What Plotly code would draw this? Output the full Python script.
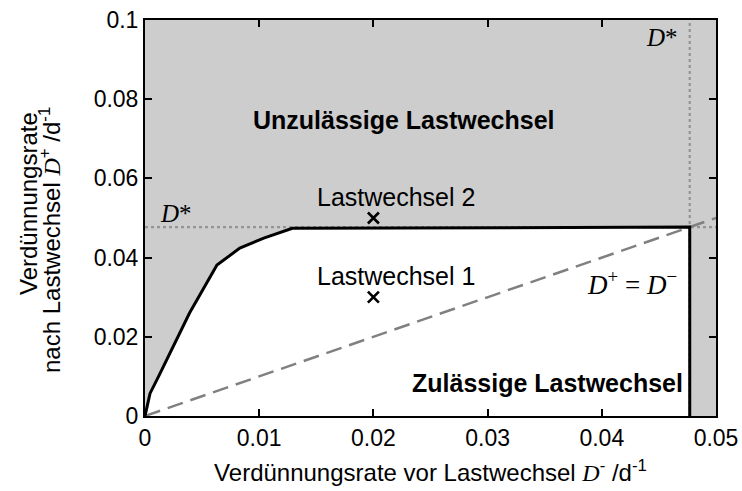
import plotly.graph_objects as go

# Critical dilution rate D*
d_star = 0.0477

# Upper boundary of the admissible region (rising part, then flat at D*)
curve_x = [0.0, 0.00044, 0.00117, 0.0022, 0.0039, 0.0063, 0.0069, 0.0083, 0.0104, 0.0129, d_star]
curve_y = [0.0, 0.0057, 0.0099, 0.0159, 0.026, 0.0381, 0.0394, 0.0424, 0.0449, 0.0474, d_star]

# Load changes (before, after)
change_names = ["Lastwechsel 1", "Lastwechsel 2"]
change_x = [0.02, 0.02]
change_y = [0.03, 0.05]
label_x = 0.0149

x_ticks = [0, 0.01, 0.02, 0.03, 0.04, 0.05]
x_ticklabels = ["0", "0.01", "0.02", "0.03", "0.04", "0.05"]
y_ticks = [0, 0.02, 0.04, 0.06, 0.08, 0.1]
y_ticklabels = ["0", "0.02", "0.04", "0.06", "0.08", "0.1"]

x_max = 0.05
y_max = 0.1

GRAY_BG = "#cdcdcd"
SANS = "Liberation Sans, Arial, sans-serif"
SERIF = "Liberation Serif, Times New Roman, serif"
TICK_SIZE = 23
TITLE_SIZE = 24
LABEL_SIZE = 25

fig = go.Figure()

# Admissible region (white) bounded by the curve, D* and the x-axis
region_x = curve_x + [d_star, 0.0]
region_y = curve_y + [0.0, 0.0]
fig.add_trace(go.Scatter(x=region_x, y=region_y, mode="lines", fill="toself",
                         fillcolor="white", line=dict(width=0), hoverinfo="skip",
                         showlegend=False))

# Dotted D* guide lines
fig.add_trace(go.Scatter(x=[0, x_max], y=[d_star, d_star], mode="lines",
                         line=dict(color="#959595", width=2.2, dash="3px,3px"),
                         showlegend=False))
fig.add_trace(go.Scatter(x=[d_star, d_star], y=[0, y_max], mode="lines",
                         line=dict(color="#959595", width=2.2, dash="3px,3px"),
                         showlegend=False))

# Diagonal D+ = D-
fig.add_trace(go.Scatter(x=[0, x_max], y=[0, x_max], mode="lines",
                         line=dict(color="#808080", width=2.5, dash="16px,8px"),
                         showlegend=False))

# Boundary of admissible region
fig.add_trace(go.Scatter(x=curve_x + [d_star], y=curve_y + [0.0], mode="lines",
                         line=dict(color="black", width=3), showlegend=False))

# Load change markers with labels
fig.add_trace(go.Scatter(x=change_x, y=change_y, mode="markers",
                         marker=dict(symbol="x-thin", size=11, color="black",
                                     line=dict(width=2.6, color="black")),
                         showlegend=False))
for name, yv in zip(change_names, change_y):
    fig.add_annotation(x=label_x, y=yv, text=name, showarrow=False, xanchor="left",
                       yanchor="middle", yshift=21,
                       font=dict(family=SANS, size=LABEL_SIZE, color="black"))

fig.add_annotation(x=0.0227, y=0.0748, text="<b>Unzulässige Lastwechsel</b>",
                   showarrow=False, font=dict(family=SANS, size=LABEL_SIZE, color="black"))
fig.add_annotation(x=0.0473, y=0.0083, text="<b>Zulässige Lastwechsel</b>",
                   showarrow=False, xanchor="right",
                   font=dict(family=SANS, size=LABEL_SIZE, color="black"))

fig.add_annotation(x=0.0011, y=0.0512, text="<i>D</i>*", showarrow=False,
                   xanchor="left", font=dict(family=SERIF, size=25, color="black"))
fig.add_annotation(x=0.0437, y=0.0957, text="<i>D</i>*", showarrow=False,
                   xanchor="left", font=dict(family=SERIF, size=25, color="black"))
fig.add_annotation(x=0.0468, y=0.0336, text="<i>D</i><sup>+</sup> = <i>D</i><sup>−</sup>",
                   showarrow=False, xanchor="right",
                   font=dict(family=SERIF, size=27, color="black"))

# Two-line y-axis title
y_title_lines = ["Verdünnungsrate",
                 "nach Lastwechsel <span style='font-family:Liberation Serif'><i>D</i></span>"
                 "<sup>+</sup> /d<sup>-1</sup>"]
y_title_xshift = [-117, -95]
y_title_yshift = [14, -22]
for line, xs, ys in zip(y_title_lines, y_title_xshift, y_title_yshift):
    fig.add_annotation(xref="paper", yref="paper", x=0, y=0.5, text=line,
                       textangle=-90, showarrow=False, xanchor="center",
                       yanchor="middle", xshift=xs, yshift=ys,
                       font=dict(family=SANS, size=TITLE_SIZE, color="black"))

axis_common = dict(showline=True, linecolor="black", linewidth=2, mirror="ticks",
                   ticks="inside", ticklen=7, tickwidth=1.5, tickcolor="black",
                   showgrid=False, zeroline=False, automargin=False,
                   tickfont=dict(family=SANS, size=TICK_SIZE, color="black"))

fig.update_xaxes(range=[0, x_max], tickvals=x_ticks, ticktext=x_ticklabels,
                 title=dict(text="Verdünnungsrate vor Lastwechsel "
                                 "<span style='font-family:Liberation Serif'><i>D</i></span>"
                                 "<sup>-</sup> /d<sup>-1</sup>",
                            font=dict(family=SANS, size=TITLE_SIZE, color="black"),
                            standoff=15),
                 **axis_common)
fig.update_yaxes(range=[0, y_max], tickvals=y_ticks, ticktext=y_ticklabels,
                 **axis_common)

fig.update_layout(width=742, height=491, margin=dict(l=145, r=26, t=20, b=75),
                  plot_bgcolor=GRAY_BG, paper_bgcolor="white", showlegend=False)

fig.write_html("out.html")
